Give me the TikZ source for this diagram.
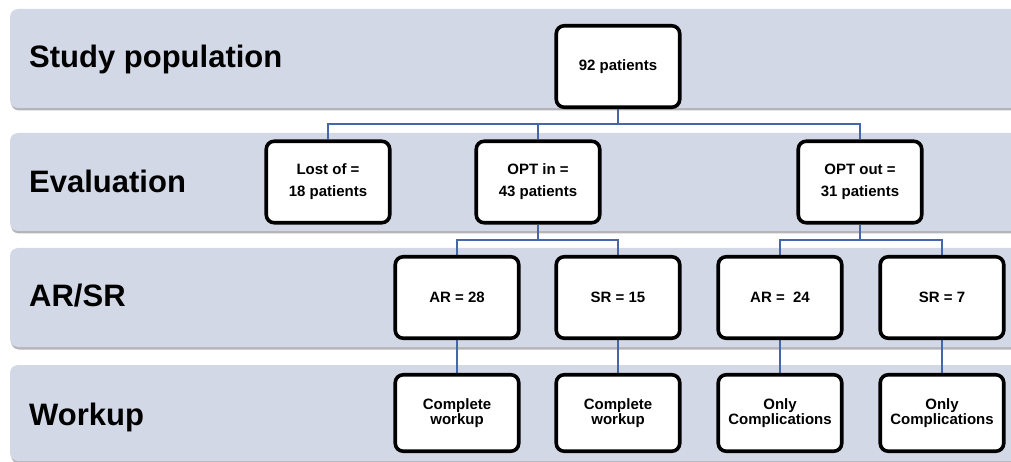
\documentclass[tikz,border=0pt]{standalone}
\usepackage{fontspec}
\setmainfont{Liberation Sans}
\usetikzlibrary{backgrounds}
\definecolor{bandfill}{RGB}{211,216,230}
\definecolor{bandshadow}{RGB}{150,150,155}
\definecolor{conncol}{RGB}{70,102,172}
\tikzset{
  band/.style={fill=bandfill, rounded corners=8pt},
  bandshade/.style={fill=bandshadow, opacity=0.7, rounded corners=8pt},
  bandlabel/.style={anchor=base west, inner sep=0pt, font=\fontsize{31}{36}\selectfont\bfseries},
  box/.style={draw=black, fill=white, line width=3.6pt, rounded corners=8pt,
    minimum width=123.5pt, minimum height=81.5pt, inner sep=2pt, align=center,
    font=\fontsize{15}{22}\selectfont\bfseries},
  wbox/.style={box, minimum height=76.5pt, font=\fontsize{15}{15.5}\selectfont\bfseries},
  conn/.style={draw=conncol, line width=1.1pt},
}
\begin{document}
\begin{tikzpicture}[x=1pt,y=-1pt]
\useasboundingbox (0,0) rectangle (1011,462);
\clip (0,0) rectangle (1011,462);
\node[bandlabel] (l1) at (29,68) {Study population};
\node[bandlabel] (l2) at (29,193) {Evaluation};
\node[bandlabel] (l3) at (29,306) {AR/SR};
\node[bandlabel] (l4) at (29,425) {Workup};
% boxes
\node[box] (p92) at (618,66.5) {92 patients};
\node[box] (lost) at (328,182) {Lost of =\\18 patients};
\node[box] (optin) at (538,182) {OPT in =\\43 patients};
\node[box] (optout) at (860,182) {OPT out =\\31 patients};
\node[box] (ar28) at (457,297.5) {AR = 28};
\node[box] (sr15) at (618,297.5) {SR = 15};
\node[box] (ar24) at (780,297.5) {AR =\ \ 24};
\node[box] (sr7) at (942,297.5) {SR = 7};
\node[wbox] (cw1) at (457,413) {Complete\\workup};
\node[wbox] (cw2) at (618,413) {Complete\\workup};
\node[wbox] (oc1) at (780,413) {Only\\Complications};
\node[wbox] (oc2) at (942,413) {Only\\Complications};
\coordinate (j1) at (618,124);
\coordinate (j2) at (538,240);
\coordinate (j3) at (860,240);
\begin{pgfonlayer}{background}
\foreach \t/\b in {9/108, 133/231, 248/347, 365/461}{
  \fill[bandshade] (11,\t+2.5) rectangle (1040,\b+2.5);
  \fill[band] (10,\t) rectangle (1040,\b);
}
\draw[conn] (p92.south) -- (j1);
\draw[conn] (lost.north) |- (j1) -| (optout.north);
\draw[conn] (optin.north) -- (optin.north |- j1);
\draw[conn] (optin.south) -- (j2);
\draw[conn] (ar28.north) |- (j2) -| (sr15.north);
\draw[conn] (optout.south) -- (j3);
\draw[conn] (ar24.north) |- (j3) -| (sr7.north);
\draw[conn] (ar28.south) -- (cw1.north);
\draw[conn] (sr15.south) -- (cw2.north);
\draw[conn] (ar24.south) -- (oc1.north);
\draw[conn] (sr7.south) -- (oc2.north);
\end{pgfonlayer}
\end{tikzpicture}
\end{document}
